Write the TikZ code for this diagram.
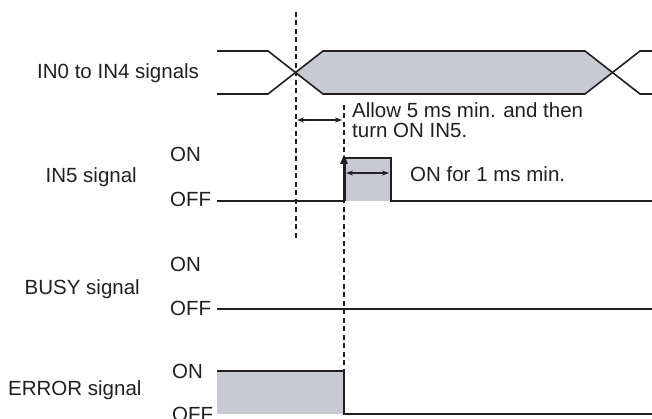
\documentclass[tikz,border=0pt]{standalone}
\usepackage{fontspec}
\setmainfont{Liberation Sans}
\usetikzlibrary{arrows.meta}
\definecolor{sigline}{RGB}{35,31,32}
\definecolor{sigfill}{RGB}{200,202,210}
\begin{document}
\begin{tikzpicture}[x=1pt,y=-1pt,
  font=\fontsize{20.5}{20.5}\selectfont,
  sig/.style={draw=sigline,line width=1.6pt},
  guide/.style={draw=sigline,line width=1.2pt,dash pattern=on 5pt off 3.5pt},
  span/.style={draw=sigline,line width=1.2pt,{Stealth[length=7pt,width=5pt]}-{Stealth[length=7pt,width=5pt]}},
  txt/.style={inner sep=0pt,text=sigline}]
\useasboundingbox (0,0) rectangle (652,419);
\fill[sigfill] (296,72) -- (323,51) -- (585,51) -- (612,72) -- (585,94) -- (323,94) -- cycle;
\fill[sigfill] (344,158) rectangle (391,201);
\fill[sigfill] (217,371) rectangle (344,414);
\draw[sig] (217,51) -- (268,51) -- (323,94) -- (585,94) -- (640,51) -- (652,51);
\draw[sig] (217,94) -- (268,94) -- (323,51) -- (585,51) -- (640,94) -- (652,94);
\draw[sig] (217,201) -- (344,201) -- (344,158) -- (391,158) -- (391,201) -- (652,201);
\draw[sig] (217,309) -- (652,309);
\draw[sig] (217,371) -- (344,371) -- (344,414) -- (652,414);
\draw[guide] (296,12) -- (296,240);
\draw[guide] (344,105) -- (344,371);
\draw[span] (297,120) -- (342,120);
\draw[span] (346,173) -- (389,173);
\draw[draw=sigline,line width=3pt,-{Triangle[length=10pt,width=7pt]}] (344,201) -- (344,154);
\node[txt,anchor=base west] (in04) at (37,79) {IN0 to IN4 signals};
\node[txt,anchor=base west] (allow) at (352,118) {Allow 5 ms min. and then};
\node[txt,anchor=base west] (turnon) at (352,138) {turn ON IN5.};
\node[txt,anchor=base east] (in5) at (137,183) {IN5 signal};
\node[txt,anchor=base west] (in5on) at (170,162) {ON};
\node[txt,anchor=base west] (in5off) at (170,207) {OFF};
\node[txt,anchor=base west] (onfor) at (410,182) {ON for 1 ms min.};
\node[txt,anchor=base east] (busy) at (140,294) {BUSY signal};
\node[txt,anchor=base west] (busyon) at (170,271) {ON};
\node[txt,anchor=base west] (busyoff) at (170,315) {OFF};
\node[txt,anchor=base west] (err) at (8,395) {ERROR signal};
\node[txt,anchor=base west] (erron) at (172,378) {ON};
\node[txt,anchor=base west] (erroff) at (172,421) {OFF};
\end{tikzpicture}
\end{document}
